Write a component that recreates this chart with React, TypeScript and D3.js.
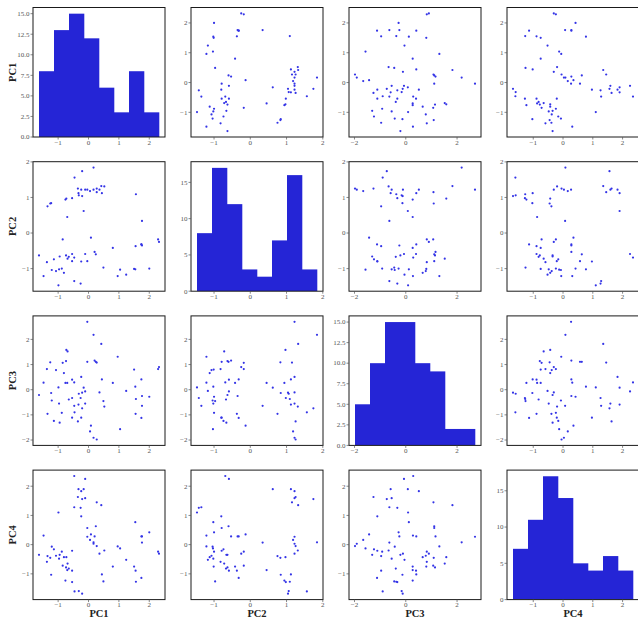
import React from "react";
import * as d3 from "d3";

// ---- data: 68 observations, 4 principal components ----
const pc1 = [-1.63, -1.48, -1.37, -1.35, -1.26, -1.23, -1.21, -1.14, -1.07, -0.99, -0.97, -0.95, -0.88, -0.85, -0.81, -0.76, -0.74, -0.73, -0.70, -0.69, -0.65, -0.54, -0.54, -0.54, -0.47, -0.47, -0.46, -0.35, -0.33, -0.32, -0.26, -0.24, -0.24, -0.21, -0.21, -0.16, -0.11, -0.11, -0.04, -0.04, 0.05, 0.08, 0.165, 0.165, 0.20, 0.24, 0.27, 0.27, 0.36, 0.42, 0.44, 0.49, 0.52, 0.80, 0.96, 1.04, 1.24, 1.50, 1.54, 1.56, 1.55, 1.74, 1.74, 1.76, 1.76, 2.32, 2.29, 2.00];
const pc2 = [-0.63, -1.21, -0.82, 0.75, 0.83, 0.84, -1.04, -0.74, -1.07, -1.47, -1.02, -0.66, -1.00, -0.18, -1.12, 0.94, -0.63, 0.97, 0.45, -0.72, -0.67, 0.98, -0.59, -0.79, -0.69, -1.35, 1.56, 1.25, 1.12, 1.06, -1.42, 1.22, -0.80, 1.04, 1.74, 0.62, -0.59, 1.22, 1.22, -0.79, 1.18, -0.13, 1.84, 1.22, -0.53, -0.60, 1.15, 1.25, 1.22, 1.32, 1.12, -0.97, 1.31, -0.42, -1.21, -1.03, -1.17, -1.01, -1.02, 1.09, -0.37, -0.32, -0.32, -0.35, 0.34, -0.25, -0.18, -1.00];
const pc3 = [-0.21, 0.28, 0.82, -0.96, 1.09, -0.13, -0.43, -1.24, 0.78, 0.09, -0.55, -1.31, -0.92, 1.07, 0.66, 0.27, 1.14, 1.58, 0.27, 1.52, -0.39, -0.33, 0.40, -1.11, 0.29, -0.64, -0.90, -1.26, -0.59, -0.16, -0.33, 0.51, -1.11, -0.12, -0.74, 0.08, -0.07, -0.55, 2.70, 1.11, -1.66, -1.43, 2.18, -1.91, 1.16, 1.11, 1.08, -1.98, -0.11, 1.82, 0.41, -0.45, -0.67, 0.27, 1.31, -1.57, -0.05, 0.80, 0.12, -0.37, -0.96, 0.41, -1.12, -0.25, -0.64, 0.90, 0.82, -0.28];
const pc4 = [-0.35, 0.31, -0.59, -0.39, -0.45, -1.03, -0.07, -0.16, -0.38, 1.10, -0.48, -0.35, -0.24, -0.72, -0.43, -1.23, -0.78, -0.43, -0.87, -0.65, -0.82, -1.28, -0.89, -0.21, 2.35, 1.28, -1.60, 1.63, 1.90, -1.59, 1.26, 1.83, 0.97, -1.68, 1.56, 1.90, 2.25, 1.59, 0.27, 0.57, 0.16, 0.35, 0.08, 0.03, 0.28, 0.63, 1.45, -0.05, -0.31, 1.35, -1.02, -1.26, -0.20, -0.75, -0.06, -0.13, -0.52, -0.75, 0.77, -1.27, -0.89, 0.28, -1.14, 0.28, 0.07, -0.31, -0.24, 0.42];

const names = ["PC1", "PC2", "PC3", "PC4"];
const xTicks = [[-1, 0, 1, 2], [-1, 0, 1, 2], [-2, 0, 2], [-1, 0, 1, 2]];
const yTicks = [[-1, 0, 1, 2], [-1, 0, 1, 2], [-2, -1, 0, 1, 2], [-1, 0, 1, 2]];
const histTicks = [
  [0, 2.5, 5, 7.5, 10, 12.5, 15],
  [0, 5, 10, 15],
  [0, 2.5, 5, 7.5, 10, 12.5, 15],
  [0, 5, 10, 15],
];
const histDecimals = [1, 0, 1, 0];
const nBins = 8;

// ---- layout ----
const W = 638, H = 618;
const LEFT0 = 33, COLSTEP = 158, PW = 132;
const TOP0 = 7.5, ROWSTEP = 154.2, PH = 129.5;
const FONT = "'Liberation Serif', 'DejaVu Serif', serif";
const BAR = "#2525d6";
const DOT = "#3434e6";

const fmt = (v: number, dec = 0) => {
  const s = Math.abs(v).toFixed(dec);
  return v < 0 ? "\u2212" + s : s;
};

export default function App() {
  const vars = [pc1, pc2, pc3, pc4];
  const domains = vars.map((v) => {
    const [mn, mx] = d3.extent(v) as [number, number];
    const pad = (mx - mn) * 0.05;
    return [mn - pad, mx + pad] as [number, number];
  });

  const panels: React.ReactNode[] = [];
  for (let r = 0; r < 4; r++) {
    for (let c = 0; c < 4; c++) {
      const left = LEFT0 + c * COLSTEP;
      const top = TOP0 + r * ROWSTEP;
      const x = d3.scaleLinear().domain(domains[c]).range([left, left + PW]);
      const key = `p${r}${c}`;
      let y: d3.ScaleLinear<number, number>;
      let marks: React.ReactNode;
      let yt: number[];
      let ydec = 0;
      if (r === c) {
        const v = vars[c];
        const [mn, mx] = d3.extent(v) as [number, number];
        const th = d3.range(1, nBins).map((k) => mn + (k * (mx - mn)) / nBins);
        const bins = d3.bin().domain([mn, mx]).thresholds(th)(v);
        const maxC = d3.max(bins, (b) => b.length) as number;
        y = d3.scaleLinear().domain([0, maxC * 1.05]).range([top + PH, top]);
        marks = bins.map((b, i) => (
          <rect
            key={i}
            x={x(b.x0 as number)}
            y={y(b.length)}
            width={x(b.x1 as number) - x(b.x0 as number) + 0.3}
            height={y(0) - y(b.length)}
            fill={BAR}
          />
        ));
        yt = histTicks[r];
        ydec = histDecimals[r];
      } else {
        y = d3.scaleLinear().domain(domains[r]).range([top + PH, top]);
        marks = vars[c].map((xv, i) => (
          <circle key={i} cx={x(xv)} cy={y(vars[r][i])} r={1.1} fill={DOT} />
        ));
        yt = yTicks[r];
      }
      panels.push(
        <g key={key}>
          <clipPath id={`clip${key}`}>
            <rect x={left} y={top} width={PW} height={PH} />
          </clipPath>
          <g clipPath={`url(#clip${key})`}>{marks}</g>
          <rect x={left} y={top} width={PW} height={PH} fill="none" stroke="#1a1a1a" strokeWidth={1} />
          {xTicks[c].map((t) => (
            <g key={"xt" + t}>
              <line x1={x(t)} x2={x(t)} y1={top + PH} y2={top + PH + 2.5} stroke="#555" strokeWidth={0.7} />
              <text x={x(t)} y={top + PH + 7.6} fontSize={7} textAnchor="middle" fill="#555" fontFamily={FONT}>
                {fmt(t)}
              </text>
            </g>
          ))}
          {yt.map((t) => (
            <g key={"yt" + t}>
              <line x1={left - 2.5} x2={left} y1={y(t)} y2={y(t)} stroke="#555" strokeWidth={0.7} />
              <text x={left - 3.5} y={y(t)} dy="0.33em" fontSize={7} textAnchor="end" fill="#555" fontFamily={FONT}>
                {fmt(t, ydec)}
              </text>
            </g>
          ))}
        </g>
      );
    }
  }

  return (
    <svg
      width={W}
      height={H}
      style={{ position: "absolute", left: 0, top: 0, background: "#fff" }}
    >
      <rect x={0} y={0} width={W} height={H} fill="#fff" />
      {panels}
      {names.map((n, i) => (
        <text
          key={"xl" + n}
          x={LEFT0 + i * COLSTEP + PW / 2}
          y={617}
          fontSize={10.5}
          fontWeight="bold"
          textAnchor="middle"
          fill="#222"
          fontFamily={FONT}
        >
          {n}
        </text>
      ))}
      {names.map((n, i) => (
        <text
          key={"yl" + n}
          transform={`translate(16, ${TOP0 + i * ROWSTEP + PH / 2}) rotate(-90)`}
          fontSize={10.5}
          fontWeight="bold"
          textAnchor="middle"
          fill="#222"
          fontFamily={FONT}
        >
          {n}
        </text>
      ))}
    </svg>
  );
}
